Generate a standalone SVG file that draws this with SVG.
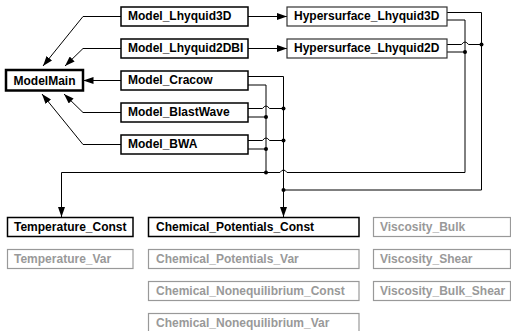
<svg xmlns="http://www.w3.org/2000/svg" width="511" height="331" viewBox="0 0 511 331">
<style>
text{font-family:"Liberation Sans",Arial,sans-serif;font-size:12px;font-weight:bold;fill:#000}
.b rect{fill:#fff;stroke:#000;stroke-width:1.5}
.h rect{fill:#fff;stroke:#333;stroke-width:1.2}
.m rect{fill:#fff;stroke:#000;stroke-width:2.5}
.g rect{fill:#fff;stroke:#999;stroke-width:1.2}
.g text{fill:#999}
.c path{fill:none;stroke:#000;stroke-width:1}
.c circle{fill:#000}
</style>
<defs>
<marker id="a" viewBox="0 0 10 7" refX="10" refY="3.5" markerWidth="10" markerHeight="7" markerUnits="userSpaceOnUse" orient="auto">
<path d="M0,0L10,3.5L0,7z" fill="#000"/>
</marker>
</defs>
<g class="c" id="connectors">
<path d="M121,16.5H83L43,66" marker-end="url(#a)"/>
<path d="M121,48.5H83L65,66" marker-end="url(#a)"/>
<path d="M121,80.5H83.5" marker-end="url(#a)"/>
<path d="M121,112.5H83L64,94" marker-end="url(#a)"/>
<path d="M121,144.5H83L42,94" marker-end="url(#a)"/>
<path d="M248,16.5H287" marker-end="url(#a)"/>
<path d="M248,48.5H287" marker-end="url(#a)"/>
<path d="M248,76.5H283.5V217" marker-end="url(#a)"/>
<path d="M248,85H266V172.5"/>
<path d="M248,108.5H262.5Q266,103.5 269.5,108.5H283.5"/>
<path d="M248,117H266"/>
<path d="M248,140.5H262.5Q266,135.5 269.5,140.5H283.5"/>
<path d="M248,149H266"/>
<path d="M447,12.5H481.5V190H283.5"/>
<path d="M447,20H465V172.5H287Q283.5,167.5 280,172.5H61.5V217" marker-end="url(#a)"/>
<path d="M447,44.5H461.5Q465,39.5 468.5,44.5H481.5"/>
<path d="M447,52H465"/>
<circle cx="283.5" cy="108.5" r="2"/>
<circle cx="283.5" cy="140.5" r="2"/>
<circle cx="266" cy="117" r="2"/>
<circle cx="266" cy="149" r="2"/>
<circle cx="266" cy="172.5" r="2"/>
<circle cx="283.5" cy="190" r="2"/>
<circle cx="481.5" cy="44.5" r="2"/>
<circle cx="465" cy="52" r="2"/>
</g>
<g id="ModelMain" class="m"><rect x="6" y="70" width="77" height="20.5"/><text x="44.5" y="84.5" text-anchor="middle">ModelMain</text></g>
<g id="Model_Lhyquid3D" class="b"><rect x="121" y="7" width="127" height="19"/><text x="128" y="20">Model_Lhyquid3D</text></g>
<g id="Model_Lhyquid2DBI" class="b"><rect x="121" y="39" width="127" height="19"/><text x="128" y="52">Model_Lhyquid2DBI</text></g>
<g id="Model_Cracow" class="b"><rect x="121" y="71" width="127" height="19"/><text x="128" y="84">Model_Cracow</text></g>
<g id="Model_BlastWave" class="b"><rect x="121" y="103" width="127" height="19"/><text x="128" y="116">Model_BlastWave</text></g>
<g id="Model_BWA" class="b"><rect x="121" y="135" width="127" height="19"/><text x="128" y="148">Model_BWA</text></g>
<g id="Hypersurface_Lhyquid3D" class="h"><rect x="287" y="7" width="160" height="19"/><text x="294" y="20">Hypersurface_Lhyquid3D</text></g>
<g id="Hypersurface_Lhyquid2D" class="h"><rect x="287" y="39" width="160" height="19"/><text x="294" y="52">Hypersurface_Lhyquid2D</text></g>
<g id="Temperature_Const" class="b"><rect x="7.5" y="217.5" width="125.5" height="19"/><text x="14" y="230.5">Temperature_Const</text></g>
<g id="Temperature_Var" class="g"><rect x="7.5" y="249.5" width="125.5" height="19"/><text x="14" y="262.5">Temperature_Var</text></g>
<g id="Chemical_Potentials_Const" class="b"><rect x="148.5" y="217.5" width="210.5" height="19"/><text x="156" y="230.5">Chemical_Potentials_Const</text></g>
<g id="Chemical_Potentials_Var" class="g"><rect x="148.5" y="249.5" width="210.5" height="19"/><text x="156" y="262.5">Chemical_Potentials_Var</text></g>
<g id="Chemical_Nonequilibrium_Const" class="g"><rect x="148.5" y="281.5" width="210.5" height="19"/><text x="156" y="294.5">Chemical_Nonequilibrium_Const</text></g>
<g id="Chemical_Nonequilibrium_Var" class="g"><rect x="148.5" y="313.5" width="210.5" height="19"/><text x="156" y="326.5">Chemical_Nonequilibrium_Var</text></g>
<g id="Viscosity_Bulk" class="g"><rect x="373.5" y="217.5" width="137" height="19"/><text x="380" y="230.5">Viscosity_Bulk</text></g>
<g id="Viscosity_Shear" class="g"><rect x="373.5" y="249.5" width="137" height="19"/><text x="380" y="262.5">Viscosity_Shear</text></g>
<g id="Viscosity_Bulk_Shear" class="g"><rect x="373.5" y="281.5" width="137" height="19"/><text x="380" y="294.5">Viscosity_Bulk_Shear</text></g>
</svg>
